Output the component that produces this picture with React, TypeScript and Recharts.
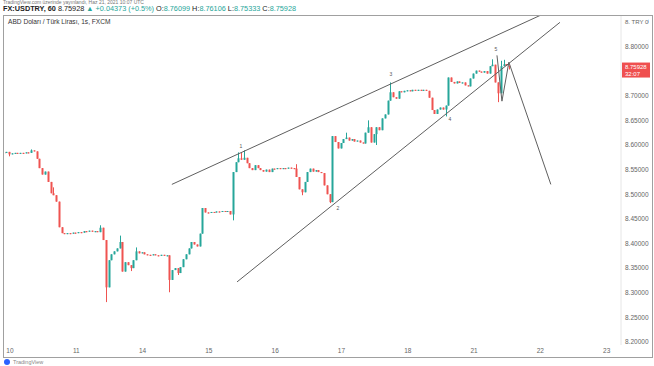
import { Bar, ComposedChart, XAxis, YAxis, ReferenceLine, ReferenceDot } from "recharts"

// hourly closes, one array per trading day (open = previous close)
const firstOpen = 8.585
const firstIndex = -2
const tail9 = [8.584, 8.586]
const day10 = [8.581, 8.583, 8.584, 8.582, 8.584, 8.583, 8.585, 8.584, 8.589, 8.587, 8.572, 8.553, 8.54, 8.546, 8.525, 8.502, 8.498, 8.485, 8.433, 8.421, 8.419, 8.421, 8.42, 8.422]
const day11 = [8.421, 8.423, 8.422, 8.425, 8.424, 8.426, 8.424, 8.425, 8.423, 8.432, 8.407, 8.311, 8.366, 8.378, 8.384, 8.39, 8.403, 8.343, 8.362, 8.356, 8.35, 8.366, 8.384, 8.38]
const day14 = [8.382, 8.378, 8.377, 8.376, 8.378, 8.376, 8.375, 8.377, 8.375, 8.376, 8.326, 8.346, 8.35, 8.34, 8.352, 8.368, 8.378, 8.39, 8.403, 8.398, 8.394, 8.42, 8.472, 8.463]
const day15 = [8.462, 8.464, 8.463, 8.465, 8.464, 8.466, 8.465, 8.466, 8.459, 8.545, 8.565, 8.573, 8.57, 8.574, 8.563, 8.553, 8.549, 8.559, 8.553, 8.549, 8.546, 8.55, 8.545, 8.552]
const day16 = [8.551, 8.553, 8.551, 8.553, 8.552, 8.554, 8.553, 8.552, 8.535, 8.51, 8.504, 8.525, 8.545, 8.552, 8.546, 8.549, 8.545, 8.543, 8.518, 8.5, 8.484, 8.618, 8.606, 8.593]
const day17 = [8.604, 8.612, 8.615, 8.609, 8.612, 8.607, 8.609, 8.605, 8.603, 8.625, 8.636, 8.605, 8.622, 8.636, 8.63, 8.654, 8.662, 8.69, 8.707, 8.697, 8.694, 8.709, 8.707, 8.71]
const day18 = [8.711, 8.709, 8.712, 8.71, 8.712, 8.711, 8.712, 8.71, 8.696, 8.671, 8.663, 8.672, 8.676, 8.672, 8.68, 8.737, 8.728, 8.725, 8.729, 8.726, 8.727, 8.721, 8.719, 8.735]
const day21 = [8.745, 8.751, 8.749, 8.747, 8.75, 8.745, 8.76, 8.763, 8.727, 8.705, 8.76, 8.764, 8.76099, 8.75928]

// notable wicks: [candle index, price]
const highWicks: [number, number][] = [[8, 8.591], [16, 8.514], [33, 8.437], [40, 8.416], [46, 8.392], [83, 8.585], [84, 8.585], [85, 8.589], [104, 8.561], [122, 8.625], [130, 8.65], [138, 8.727], [175, 8.774], [178, 8.771], [179, 8.773], [181, 8.76106]]
const lowWicks: [number, number][] = [[0, 8.577], [35, 8.281], [44, 8.344], [58, 8.301], [61, 8.336], [81, 8.447], [106, 8.498], [116, 8.482], [133, 8.6], [158, 8.658], [177, 8.687], [181, 8.75333]]

const dayTicks = [0, 24, 48, 72, 96, 120, 144, 168, 192, 216]
const dayLabels = ["10", "11", "14", "15", "16", "17", "18", "21", "22", "23"]
const priceTicks = [8.2, 8.25, 8.3, 8.35, 8.4, 8.45, 8.5, 8.55, 8.6, 8.65, 8.7, 8.8, 8.85]

const upperLine = [{ x: 58.6, y: 8.52 }, { x: 191.9, y: 8.863 }]
const lowerLine = [{ x: 82.2, y: 8.322 }, { x: 199.1, y: 8.849 }]
const projection = [{ x: 176.3, y: 8.782 }, { x: 178.1, y: 8.689 }, { x: 180.6, y: 8.768 }, { x: 195.8, y: 8.52 }]
const waveLabels = [
  { n: "1", x: 83.6, y: 8.597 },
  { n: "2", x: 118.7, y: 8.472 },
  { n: "3", x: 137.9, y: 8.745 },
  { n: "4", x: 159.3, y: 8.652 },
  { n: "5", x: 175.9, y: 8.794 },
]
const lastPrice = 8.75928

const GREEN = "#26a69a"
const RED = "#ef5350"

const closes = [tail9, day10, day11, day14, day15, day16, day17, day18, day21].flat()
const candles = closes.map((close, k) => {
  const i = firstIndex + k
  const open = k === 0 ? firstOpen : closes[k - 1]
  const hw = highWicks.find((w) => w[0] === i)
  const lw = lowWicks.find((w) => w[0] === i)
  const high = Math.max(open, close, hw ? hw[1] : 0)
  let low = Math.min(open, close, lw ? lw[1] : 99)
  if (high - low < 0.0004) low = high - 0.0004
  return { i, open, close, high, low, range: [low, high] }
})

function Candle(props: any) {
  const { x, y, width, height } = props
  const d = props.payload ?? props
  const top = Math.min(y, y + height)
  const h = Math.abs(height)
  const span = d.high - d.low
  const toY = (v: number) => top + (span > 0 ? ((d.high - v) / span) * h : 0)
  const color = d.close >= d.open ? GREEN : RED
  const cx = Math.floor(x + width / 2) + 0.5
  const bTop = toY(Math.max(d.open, d.close))
  const bBot = toY(Math.min(d.open, d.close))
  return (
    <g>
      <line x1={cx} x2={cx} y1={top} y2={top + Math.max(h, 1)} stroke={color} strokeWidth={1} />
      <rect x={cx - 1} y={bTop} width={2} height={Math.max(bBot - bTop, 1)} fill={color} />
    </g>
  )
}

function PriceTag(props: any) {
  const vb = props.viewBox
  const px = vb.x + vb.width + 1
  return (
    <g>
      <rect x={px} y={vb.y - 4} width={28} height={15} fill="#ef4f4f" />
      <text x={px + 3} y={vb.y + 2} fontSize={6} fill="#fff">{lastPrice.toFixed(5)}</text>
      <text x={px + 3} y={vb.y + 9} fontSize={6} fill="#fff">32:07</text>
    </g>
  )
}

export default function App() {
  const lineProps = { stroke: "#5f5f5f", strokeWidth: 1, ifOverflow: "visible" as const }
  return (
    <div style={{ position: "absolute", left: 0, top: 0, width: 654, height: 366, overflow: "hidden", background: "#fff", fontFamily: '"Liberation Sans", Arial, sans-serif' }}>
      <div style={{ position: "absolute", left: 0, top: 0 }}>
        <ComposedChart width={654} height={366} data={candles} margin={{ top: 16, left: 5, right: 0, bottom: 9 }}>
          <XAxis
            dataKey="i"
            type="number"
            domain={[-1.8, 221.2]}
            allowDataOverflow
            ticks={dayTicks}
            tickFormatter={(v) => dayLabels[dayTicks.indexOf(v)] ?? ""}
            interval={0}
            height={12}
            tickSize={0}
            tickMargin={3}
            axisLine={false}
            tick={{ fontSize: 6.5, fill: "#666" }}
          />
          <YAxis
            orientation="right"
            type="number"
            domain={[8.1939, 8.8619]}
            allowDataOverflow
            ticks={priceTicks}
            interval={0}
            width={33}
            tickSize={0}
            tickMargin={4}
            axisLine={{ stroke: "#e6e6e6" }}
            tickFormatter={(v) => v.toFixed(5)}
            tick={{ fontSize: 6.5, fill: "#666" }}
          />
          <Bar dataKey="range" barSize={2} shape={Candle} isAnimationActive={false} />
          <ReferenceLine segment={upperLine} {...lineProps} />
          <ReferenceLine segment={lowerLine} {...lineProps} />
          <ReferenceLine segment={[projection[0], projection[1]]} {...lineProps} />
          <ReferenceLine segment={[projection[1], projection[2]]} {...lineProps} />
          <ReferenceLine segment={[projection[2], projection[3]]} {...lineProps} />
          {waveLabels.map((w) => (
            <ReferenceDot
              key={w.n}
              x={w.x}
              y={w.y}
              r={0}
              ifOverflow="visible"
              shape={(p: any) => (
                <text x={p.cx} y={p.cy + 2} fontSize={5} fill="#555" textAnchor="middle">{w.n}</text>
              )}
            />
          ))}
          <ReferenceLine y={lastPrice} stroke="none" ifOverflow="visible" label={<PriceTag />} />
        </ComposedChart>
      </div>
      <div style={{ position: "absolute", left: 3, top: 15, width: 650, height: 343, boxSizing: "border-box", border: "1px solid #a0a0a0", pointerEvents: "none" }} />
      <div style={{ position: "absolute", left: 3, top: 0, fontSize: 5, lineHeight: "5px", color: "#777", whiteSpace: "nowrap" }}>
        TradingView.com üzerinde yayınlandı, Haz 21, 2021 10:07 UTC
      </div>
      <div style={{ position: "absolute", left: 3, top: 5, fontSize: 7.3, lineHeight: "8px", color: "#222", whiteSpace: "nowrap" }}>
        <b>FX:USDTRY, 60</b> 8.75928 <span style={{ color: GREEN }}>▲ +0.04373 (+0.5%)</span> O:<span style={{ color: GREEN }}>8.76099</span> H:<span style={{ color: GREEN }}>8.76106</span> L:<span style={{ color: GREEN }}>8.75333</span> C:<span style={{ color: GREEN }}>8.75928</span>
      </div>
      <div style={{ position: "absolute", left: 8, top: 18, fontSize: 6.6, lineHeight: "8px", color: "#333", whiteSpace: "nowrap" }}>
        ABD Doları / Türk Lirası, 1s, FXCM
      </div>
      <div style={{ position: "absolute", left: 625, top: 18, fontSize: 6, lineHeight: "8px", color: "#666", whiteSpace: "nowrap", background: "#fff" }}>
        8. TRY 0
      </div>
      <div style={{ position: "absolute", left: 4, top: 359, width: 6, height: 6, borderRadius: 3, background: "#2962ff" }} />
      <div style={{ position: "absolute", left: 13, top: 359, fontSize: 5.5, lineHeight: "7px", color: "#888", whiteSpace: "nowrap" }}>TradingView</div>
    </div>
  )
}
